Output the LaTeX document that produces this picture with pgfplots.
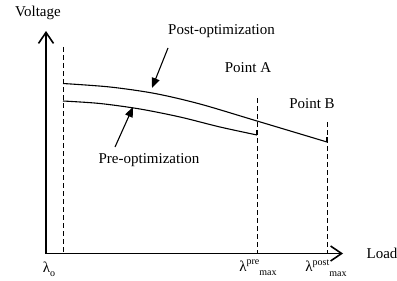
\documentclass[border=0pt]{standalone}
\usepackage{fontspec}
\setmainfont{Liberation Serif}
\usepackage{pgfplots}
\pgfplotsset{compat=1.18}
\usetikzlibrary{arrows.meta}
\newcommand{\sm}[1]{{\fontsize{10bp}{12bp}\selectfont #1}}
\begin{document}
\fontsize{15bp}{18bp}\selectfont
\begin{tikzpicture}
\useasboundingbox (0,0) rectangle (397bp,281bp);
\begin{axis}[
  at={(0,0)}, anchor=south west,
  width=397bp, height=281bp, scale only axis,
  xmin=0, xmax=397, ymin=0, ymax=281, y dir=reverse,
  hide axis, clip=false,
]
% axes
\addplot[black, line width=1.6pt, -{Straight Barb[length=11bp,width=15bp,line width=1.6pt]}] coordinates {(46,253.5) (343,253.5)};
\addplot[black, line width=1.6pt, -{Straight Barb[length=11bp,width=15bp,line width=1.6pt]}] coordinates {(46,253.5) (46,31)};
% dashed verticals
\addplot[black, line width=0.9pt, dash pattern=on 5bp off 3bp] coordinates {(63,47) (63,253)};
\addplot[black, line width=0.9pt, dash pattern=on 5bp off 3bp] coordinates {(257,98) (257,253)};
\addplot[black, line width=0.9pt, dash pattern=on 5bp off 3bp] coordinates {(327,122) (327,253)};
% curves
\addplot[black, line width=1.1pt, smooth, tension=0.5] coordinates {(63,83.5) (110,87) (155,93.5) (200,104) (257,121) (327,142)};
\addplot[black, line width=1.1pt, smooth, tension=0.5] coordinates {(63,101) (100,103.5) (140,109) (180,117) (220,127) (257,135)};
\addplot[black, line width=1.1pt] coordinates {(257,135) (257,130)};
\addplot[black, line width=1.1pt] coordinates {(327,142) (327,137)};
% annotation arrows
\addplot[black, line width=1.1pt, -{Triangle[length=10bp,width=8bp]}] coordinates {(168,48) (152,88)};
\addplot[black, line width=1.1pt, -{Triangle[length=10bp,width=8bp]}] coordinates {(115,147) (133,107)};
% texts
\node at (axis cs:38,13) {Voltage};
\node at (axis cs:382,253) {Load};
\node at (axis cs:221.5,31) {Post-optimization};
\node at (axis cs:149,160) {Pre-optimization};
\node at (axis cs:248,68) {Point A};
\node at (axis cs:312,104) {Point B};
\node at (axis cs:49,269) {λ\raisebox{-0.25em}{\sm{o}}};
\node at (axis cs:258,268) {λ\raisebox{0.45em}{\sm{pre}}\raisebox{-0.3em}{\sm{max}}};
\node at (axis cs:326,268) {λ\raisebox{0.45em}{\sm{post}}\raisebox{-0.3em}{\sm{max}}};
\end{axis}
\end{tikzpicture}
\end{document}
